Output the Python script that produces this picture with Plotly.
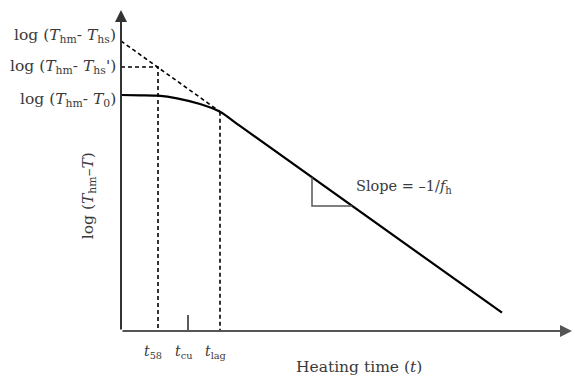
import plotly.graph_objects as go

# ---- data (arbitrary units: heating time t, log temperature difference) ----
curve_t = [0, 20, 37, 56, 79, 99, 120, 381]
curve_y = [236, 235.7, 235.3, 232.7, 227, 219.3, 204.3, 18.3]

extrap_t = [0, 99]
extrap_y = [290, 219.3]

t58, tcu, tlag = 37, 67, 99
y_hs, y_hs2, y_0 = 290, 264, 236
y_lag = 219.3

slope_tri_t = [191, 191, 231.3]
slope_tri_y = [153.7, 125, 125]

x_tick_vals = [t58, tcu, tlag]
x_tick_text = ["<i>t</i><sub>58</sub>", "<i>t</i><sub>cu</sub>", "<i>t</i><sub>lag</sub>"]
y_tick_vals = [y_hs, y_hs2, y_0]
y_tick_text = [
    "log (<i>T</i><sub>hm</sub>- <i>T</i><sub>hs</sub>)",
    "log (<i>T</i><sub>hm</sub>- <i>T</i><sub>hs</sub>')",
    "log (<i>T</i><sub>hm</sub>- <i>T</i><sub>0</sub>)",
]
y_label_shift = [5, 0, -5]

X_MAX, Y_MAX = 451, 321
FONT = "DejaVu Serif"
TXT = "#3a3a3a"

fig = go.Figure()
dash = dict(color="black", width=1.6, dash="4px,3px")

fig.add_trace(go.Scatter(x=curve_t, y=curve_y, mode="lines",
                         line=dict(color="black", width=2.2, shape="spline", smoothing=0.8),
                         cliponaxis=False, hoverinfo="skip"))
fig.add_trace(go.Scatter(x=extrap_t, y=extrap_y, mode="lines", line=dash,
                         cliponaxis=False, hoverinfo="skip"))
fig.add_trace(go.Scatter(x=[0, t58, t58], y=[y_hs2, y_hs2, 0], mode="lines", line=dash,
                         cliponaxis=False, hoverinfo="skip"))
fig.add_trace(go.Scatter(x=[tlag, tlag], y=[y_lag, 0], mode="lines", line=dash,
                         cliponaxis=False, hoverinfo="skip"))
fig.add_trace(go.Scatter(x=[tcu, tcu], y=[0, 16], mode="lines",
                         line=dict(color="#333333", width=1.6),
                         cliponaxis=False, hoverinfo="skip"))
fig.add_trace(go.Scatter(x=slope_tri_t, y=slope_tri_y, mode="lines",
                         line=dict(color="#555555", width=1.5),
                         cliponaxis=False, hoverinfo="skip"))

annotations = []
# axes with arrows
annotations.append(dict(x=0, y=Y_MAX, ax=0, ay=0, xref="x", yref="y", axref="x", ayref="y",
                        text="", showarrow=True, arrowhead=2, arrowsize=1.2, arrowwidth=2,
                        arrowcolor="#333333", standoff=0, startstandoff=0))
annotations.append(dict(x=X_MAX, y=0, ax=0, ay=0, xref="x", yref="y", axref="x", ayref="y",
                        text="", showarrow=True, arrowhead=2, arrowsize=1.2, arrowwidth=2,
                        arrowcolor="#555555", standoff=0, startstandoff=0))
# x tick labels
for v, t in zip(x_tick_vals, x_tick_text):
    annotations.append(dict(x=v, y=0, xref="x", yref="y", text=t, showarrow=False,
                            xanchor="center", yanchor="middle", yshift=-21, xshift=-5,
                            font=dict(family=FONT, size=14, color=TXT)))
# y tick labels
for v, t, s in zip(y_tick_vals, y_tick_text, y_label_shift):
    annotations.append(dict(x=0, y=v, xref="x", yref="y", text=t, showarrow=False,
                            xanchor="right", yanchor="middle", xshift=-3, yshift=s,
                            font=dict(family=FONT, size=15.5, color=TXT)))
# titles
annotations.append(dict(x=0.528, y=0, xref="paper", yref="paper", text="Heating time (<i>t</i>)",
                        showarrow=False, xanchor="center", yanchor="middle", yshift=-36,
                        font=dict(family=FONT, size=15.5, color=TXT)))
annotations.append(dict(x=0, y=0.42, xref="paper", yref="paper",
                        text="log (<i>T</i><sub>hm</sub>–<i>T</i>)", textangle=-90,
                        showarrow=False, xanchor="center", yanchor="middle", xshift=-32,
                        font=dict(family=FONT, size=15.5, color=TXT)))
annotations.append(dict(x=233, y=144, xref="x", yref="y",
                        text="Slope = –1/<i>f</i><sub>h</sub>", showarrow=False,
                        xanchor="left", yanchor="middle",
                        font=dict(family=FONT, size=14.5, color=TXT)))

fig.update_layout(
    width=575, height=376,
    margin=dict(l=121, r=3, t=10, b=45),
    paper_bgcolor="white", plot_bgcolor="white",
    showlegend=False,
    xaxis=dict(range=[0, X_MAX], visible=False, fixedrange=True),
    yaxis=dict(range=[0, Y_MAX], visible=False, fixedrange=True),
    annotations=annotations,
)

fig.write_html("out.html", config={"displayModeBar": False},
               post_script="document.body.style.margin='0';document.body.style.overflow='hidden';")
